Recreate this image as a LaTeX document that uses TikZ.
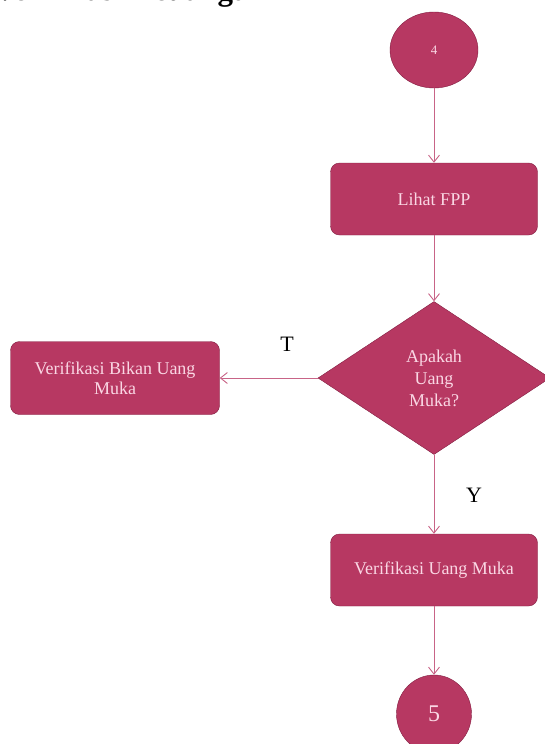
\documentclass[tikz,border=0pt]{standalone}
\usepackage{fontspec}
\setmainfont{Liberation Serif}
\usetikzlibrary{shapes.geometric,arrows.meta}

\definecolor{boxfill}{RGB}{183,56,98}
\definecolor{boxline}{RGB}{130,30,65}
\definecolor{boxtext}{RGB}{250,215,228}
\definecolor{linkcol}{RGB}{200,100,135}

\begin{document}
\begin{tikzpicture}[x=1pt,y=-1pt,
  proc/.style={draw=boxline,fill=boxfill,text=boxtext,rounded corners=9pt,
    minimum width=207pt,minimum height=72pt,font=\fontsize{18}{20}\selectfont,align=center},
  term/.style={draw=boxline,fill=boxfill,text=boxtext,ellipse,inner sep=0pt},
  decide/.style={draw=boxline,fill=boxfill,text=boxtext,diamond,inner sep=0pt,
    minimum width=232pt,minimum height=153pt,font=\fontsize{18}{22}\selectfont,align=center},
  link/.style={draw=linkcol,line width=0.9pt,-{Straight Barb[length=7pt,width=11pt]}},
  yn/.style={font=\fontsize{22}{22}\selectfont}]
\useasboundingbox (0,0) rectangle (545,744);

% judul (terpotong di atas)
\node[anchor=base east,font=\fontsize{31}{31}\selectfont\bfseries,inner sep=0pt] (judul) at (266,1) {Verifikasi Keuangan};

\node[term,minimum width=88pt,minimum height=76pt,font=\fontsize{13}{13}\selectfont] (mulai) at (434,50) {4};
\node[proc] (lihat) at (434,199) {Lihat FPP};
\node[decide] (uangmuka) at (434,378) {Apakah\\Uang\\Muka?};
\node[proc,minimum width=209pt,minimum height=73pt] (bukan) at (115,378) {Verifikasi Bikan Uang\\Muka};
\node[proc] (verif) at (434,570) {Verifikasi Uang Muka};
\node[term,minimum width=75pt,minimum height=78pt,font=\fontsize{24}{24}\selectfont] (selesai) at (434,714) {5};

\draw[link] (mulai) -- (lihat);
\draw[link] (lihat) -- (uangmuka);
\draw[link] (uangmuka.west) -- (bukan.east);
\draw[link] (uangmuka.south) -- (verif.north);
\draw[link] (verif) -- (selesai);

\node[yn] (tidak) at (287,344) {T};
\node[yn] (ya) at (474,495) {Y};

\end{tikzpicture}
\end{document}
